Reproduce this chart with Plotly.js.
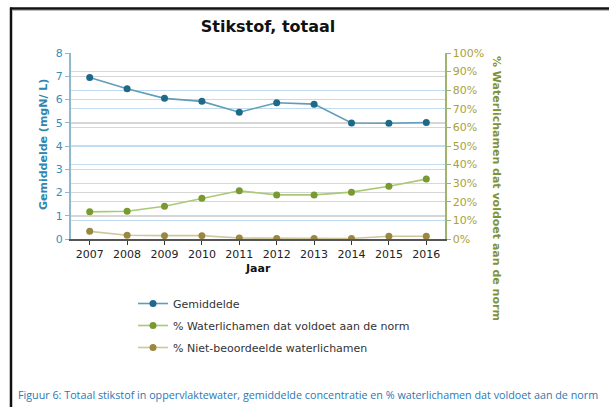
<!DOCTYPE html>
<html>
<head>
<meta charset="utf-8">
<script src="https://cdn.plot.ly/plotly-3.0.1.min.js"></script>
<style>html,body{margin:0;padding:0;background:#fff;}#chart{width:609px;height:407px;}</style>
</head>
<body>
<div id="chart"></div>
<script>
const years = ["2007","2008","2009","2010","2011","2012","2013","2014","2015","2016"];
const gemiddelde = [6.95, 6.46, 6.05, 5.92, 5.45, 5.86, 5.80, 4.99, 4.98, 5.01];
const pctNorm = [14.6, 14.9, 17.6, 21.9, 25.9, 23.7, 23.7, 25.2, 28.4, 32.2];
const pctNiet = [4.1, 2.0, 1.8, 1.8, 0.5, 0.3, 0.3, 0.3, 1.5, 1.5];
const leftTicks = [0,1,2,3,4,5,6,7,8];
const rightTicks = [0,10,20,30,40,50,60,70,80,90,100];

const L = 71, R = 445, T = 53, B = 239;
const W = R - L, H = B - T;
const px = x => (x - L) / W;
const py = y => (B - y) / H;

const traces = [
  {x: years, y: gemiddelde, name: "Gemiddelde", type: "scatter", mode: "lines+markers",
   line: {color: "#5f9db8", width: 1.6}, marker: {color: "#1d6a88", size: 7},
   legendgroup: "a", yaxis: "y"},
  {x: years, y: pctNorm, name: "% Waterlichamen dat voldoet aan de norm", type: "scatter", mode: "lines+markers",
   line: {color: "#a9c974", width: 1.6}, marker: {color: "#789a30", size: 7},
   legendgroup: "b", yaxis: "y2"},
  {x: years, y: pctNiet, name: "% Niet-beoordeelde waterlichamen", type: "scatter", mode: "lines+markers",
   line: {color: "#cfc79c", width: 1.6}, marker: {color: "#988840", size: 7},
   legendgroup: "c", yaxis: "y2"}
];

const layout = {
  width: 609, height: 407,
  margin: {l: L, r: 609 - R, t: T, b: 407 - B, pad: 0},
  paper_bgcolor: "#fff", plot_bgcolor: "#fff",
  font: {family: "DejaVu Sans, Verdana, sans-serif", size: 11, color: "#222"},
  title: {text: "<b>Stikstof, totaal</b>", x: 268/609, xanchor: "center", y: 1 - 26/407, yanchor: "middle",
          font: {size: 16, color: "#111", family: "DejaVu Sans, Verdana, sans-serif"}},
  showlegend: true,
  legend: {x: px(133), xanchor: "left", y: py(289), yanchor: "top", traceorder: "grouped",
           tracegroupgap: 3, font: {size: 11, color: "#333"}, bgcolor: "rgba(0,0,0,0)"},
  xaxis: {type: "category", categoryorder: "array", categoryarray: years, range: [-0.5, 9.5],
          showline: true, linecolor: "#555", linewidth: 1.5, ticks: "outside", ticklen: 4,
          tickcolor: "#333", tickfont: {size: 11, color: "#222"}, showgrid: false, zeroline: false, fixedrange: true},
  yaxis: {range: [0, 8], tickvals: leftTicks, ticktext: leftTicks.map(String), showline: true,
          linecolor: "#8db9cc", linewidth: 2, ticks: "outside", ticklen: 4, tickcolor: "#8db9cc",
          tickfont: {size: 11, color: "#3b8cb6"}, showgrid: true, gridcolor: "#d6d6d6", gridwidth: 1.5,
          zeroline: false},
  yaxis2: {overlaying: "y", side: "right", range: [0, 100], tickvals: rightTicks,
           ticktext: rightTicks.map(v => v + "%"), showline: true, linecolor: "#9fb46e", linewidth: 1.5,
           ticks: "outside", ticklen: 4, tickcolor: "#9fb46e", tickfont: {size: 11, color: "#a8a23a"},
           showgrid: true, gridcolor: "#c2dcf2", gridwidth: 1.2, zeroline: false},
  annotations: [
    {text: "<b>Gemiddelde (mgN/ L)</b>", xref: "paper", yref: "paper", x: px(43), y: py(145),
     xanchor: "center", yanchor: "middle", textangle: -90, showarrow: false,
     font: {size: 11, color: "#2f86b0"}},
    {text: "<b>% Waterlichamen dat voldoet aan de norm</b>", xref: "paper", yref: "paper", x: px(497), y: py(189),
     xanchor: "center", yanchor: "middle", textangle: 90, showarrow: false,
     font: {size: 11, color: "#7f9234"}},
    {text: "<b>Jaar</b>", xref: "paper", yref: "paper", x: px(258), y: py(268),
     xanchor: "center", yanchor: "middle", showarrow: false, font: {size: 11, color: "#111"}},
    {text: "Figuur 6: Totaal stikstof in oppervlaktewater, gemiddelde concentratie en % waterlichamen dat voldoet aan de norm",
     xref: "paper", yref: "paper", x: px(16), y: py(395), xanchor: "left", yanchor: "middle", showarrow: false,
     font: {size: 10.75, color: "#2b78b4", family: "Open Sans, Noto Sans, sans-serif"}}
  ],
  shapes: [
    {type: "line", xref: "paper", yref: "paper", x0: px(11), x1: px(11), y0: py(7.5), y1: py(420),
     line: {color: "#111", width: 2.5}},
    {type: "line", xref: "paper", yref: "paper", x0: px(10), x1: px(620), y0: py(8.5), y1: py(8.5),
     line: {color: "#111", width: 2.5}},
    {type: "line", xref: "paper", yref: "paper", x0: px(12), x1: px(620), y0: py(10.5), y1: py(10.5),
     line: {color: "#bbb", width: 1}}
  ]
};

Plotly.newPlot("chart", traces, layout, {displayModeBar: false, staticPlot: true});
</script>
</body>
</html>
